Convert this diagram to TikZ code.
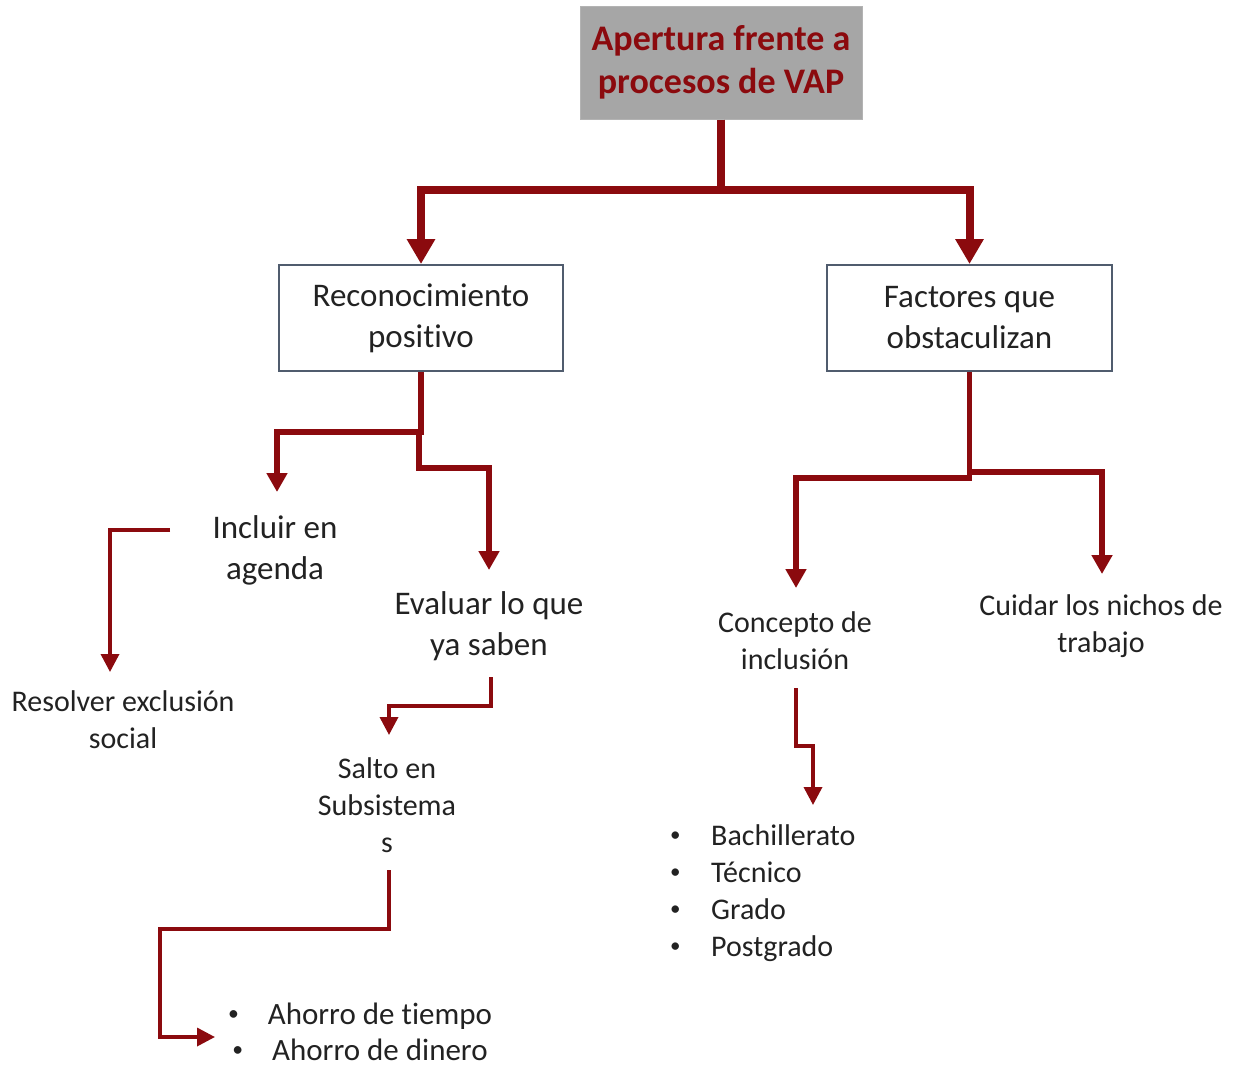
\documentclass[tikz,border=0pt]{standalone}
\usepackage{fontspec}
\setmainfont{Carlito}[Ligatures=NoCommon]
\usetikzlibrary{arrows.meta}
\definecolor{vred}{RGB}{139,10,14}
\definecolor{titlegray}{RGB}{166,166,166}
\definecolor{boxline}{RGB}{80,92,110}
\definecolor{ink}{RGB}{34,34,34}
% small list bullet
\newcommand{\dotmark}{\raisebox{0.12em}{\scalebox{0.7}{•}}}
\begin{document}
\begin{tikzpicture}[x=1pt,y=-1pt,
  every node/.style={text=ink, inner sep=0pt, align=center},
  titlebox/.style={fill=titlegray, draw=titlegray!85!white, line width=1pt,
    minimum width=282pt, minimum height=113pt, text=vred,
    font=\bfseries\fontsize{36}{43}\selectfont},
  catbox/.style={fill=white, draw=boxline, line width=2pt,
    minimum width=284pt, minimum height=106pt, font=\fontsize{33}{41}\selectfont},
  bigtext/.style={font=\fontsize{33}{41}\selectfont},
  smalltext/.style={font=\fontsize{30}{37}\selectfont},
  trunk/.style={draw=vred, line width=8pt, -{Triangle[width=27pt,length=25pt]}},
  branch/.style={draw=vred, line width=5.5pt, -{Triangle[width=20pt,length=19pt]}},
  twig/.style={draw=vred, line width=3.5pt, -{Triangle[width=18pt,length=18pt]}},
  line join=miter]
\useasboundingbox (0,0) rectangle (1234,1069);

% main title and the two categories
\node[titlebox] (top) at (721,62.5) {Apertura frente a\\procesos de VAP};
\node[catbox] (rec) at (421,318) {Reconocimiento\\positivo};
\node[catbox, minimum width=285pt] (fac) at (969.5,318) {Factores que\\obstaculizan};

% left subtree
\node[bigtext] (incl) at (275,550) {Incluir en\\agenda};
\node[bigtext] (eval) at (489,626) {Evaluar lo que\\ya saben};
\node[smalltext] (resol) at (123,720) {Resolver exclusión\\social};
\node[smalltext] (salto) at (387,805) {Salto en\\Subsistema\\s};
\node[font=\fontsize{31}{36}\selectfont] (ahorro) at (360,1032)
  {\dotmark\hspace{29pt}Ahorro de tiempo\\\dotmark\hspace{29pt}Ahorro de dinero};

% right subtree
\node[smalltext] (concept) at (795,641) {Concepto de\\inclusión};
\node[smalltext] (cuidar) at (1101,626) {Cuidar los nichos de\\trabajo};
\node[smalltext, align=left, anchor=west] (niveles) at (670,893)
  {\makebox[41pt][l]{\dotmark}Bachillerato\\\makebox[41pt][l]{\dotmark}Técnico\\\makebox[41pt][l]{\dotmark}Grado\\\makebox[41pt][l]{\dotmark}Postgrado};

% connector start points beside the text nodes
\coordinate (inclOut) at (170,530);
\coordinate (evalOut) at (491,677);
\coordinate (saltoOut) at (389,870);
\coordinate (conceptOut) at (796,688);

% title to categories
\draw[trunk] (top.south) |- (rec.north |- 0,190) -- (rec.north);
\draw[trunk] (top.south) |- (fac.north |- 0,190) -- (fac.north);

% Reconocimiento positivo
\draw[branch] (rec.south) |- (277,432) -- (277,492);
\draw[branch] (rec.south) -- (421,432) -- (419,432) |- (489,468) -- (489,570);

% Factores que obstaculizan
\draw[branch] (fac.south) |- (796,478) -- (796,588);
\draw[branch] (fac.south) |- (1102,472) -- (1102,574);

% thinner follow-up arrows
\draw[twig] (inclOut) -| (110,672);
\draw[twig] (evalOut) |- (389,706) -- (389,735);
\draw[twig] (saltoOut) |- (160,929) |- (215,1037);
\draw[twig] (conceptOut) |- (813,746) -- (813,805);
\end{tikzpicture}
\end{document}
